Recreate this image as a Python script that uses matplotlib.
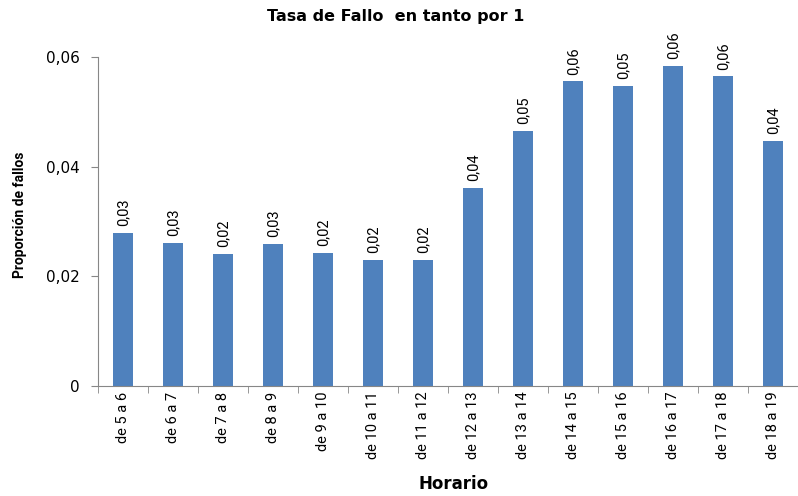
import matplotlib
matplotlib.use("Agg")
import matplotlib.pyplot as plt
from matplotlib import font_manager as fm

categories = ["de 5 a 6", "de 6 a 7", "de 7 a 8", "de 8 a 9", "de 9 a 10", "de 10 a 11",
              "de 11 a 12", "de 12 a 13", "de 13 a 14", "de 14 a 15", "de 15 a 16",
              "de 16 a 17", "de 17 a 18", "de 18 a 19"]
values = [0.0279, 0.0261, 0.0241, 0.0259, 0.0243, 0.0230, 0.0230,
          0.0361, 0.0465, 0.0556, 0.0547, 0.0584, 0.0565, 0.0447]
yticks = [0, 0.02, 0.04, 0.06]
ytick_labels = ["0", "0,02", "0,04", "0,06"]

names = {f.name for f in fm.fontManager.ttflist}
narrow = "Liberation Sans Narrow" if "Liberation Sans Narrow" in names else "Roboto"

fig = plt.figure(figsize=(7.98, 4.96), dpi=100)
ax = fig.add_axes([98/798, 110/496, 1 - 98/798, (386-57)/496])

x = list(range(len(categories)))
ax.bar(x, values, width=0.4, color="#4F81BD", zorder=2)
ax.set_ylim(0, 0.06)
ax.set_xlim(-0.5, 13.5 - 8/50.6)

ax.set_yticks(yticks)
ax.set_yticklabels(ytick_labels, fontsize=11, family="DejaVu Sans")
ax.set_xticks(x)
ax.set_xticklabels(categories, rotation=90, fontsize=10.5, family=narrow)
ax.tick_params(axis="x", length=0, pad=4)
ax.set_xticks([i + 0.5 for i in range(-1, len(categories))], minor=True)
ax.tick_params(axis="x", which="minor", length=5, color="#878787", direction="out")
ax.tick_params(axis="y", length=5, color="#878787", direction="out", pad=8)

for s in ["top", "right"]:
    ax.spines[s].set_visible(False)
for s in ["left", "bottom"]:
    ax.spines[s].set_color("#878787")

for xi, v in zip(x, values):
    ax.text(xi, v + 0.0012, f"{v:.2f}".replace(".", ","), rotation=90,
            ha="center", va="bottom", fontsize=10.5, family=narrow)

fig.text(396/798, 1 - 16/496, "Tasa de Fallo  en tanto por 1", ha="center", va="center",
         fontsize=11.5, fontweight="bold", family="DejaVu Sans")
fig.text(454/798, 1 - 484/496, "Horario", ha="center", va="center",
         fontsize=12, fontweight="bold", family="DejaVu Sans")
fig.text(20/798, 1 - 215/496, "Proporción de fallos", ha="center", va="center",
         rotation=90, fontsize=10, fontweight="bold", family=narrow)

fig.savefig("out.png", dpi=100)
